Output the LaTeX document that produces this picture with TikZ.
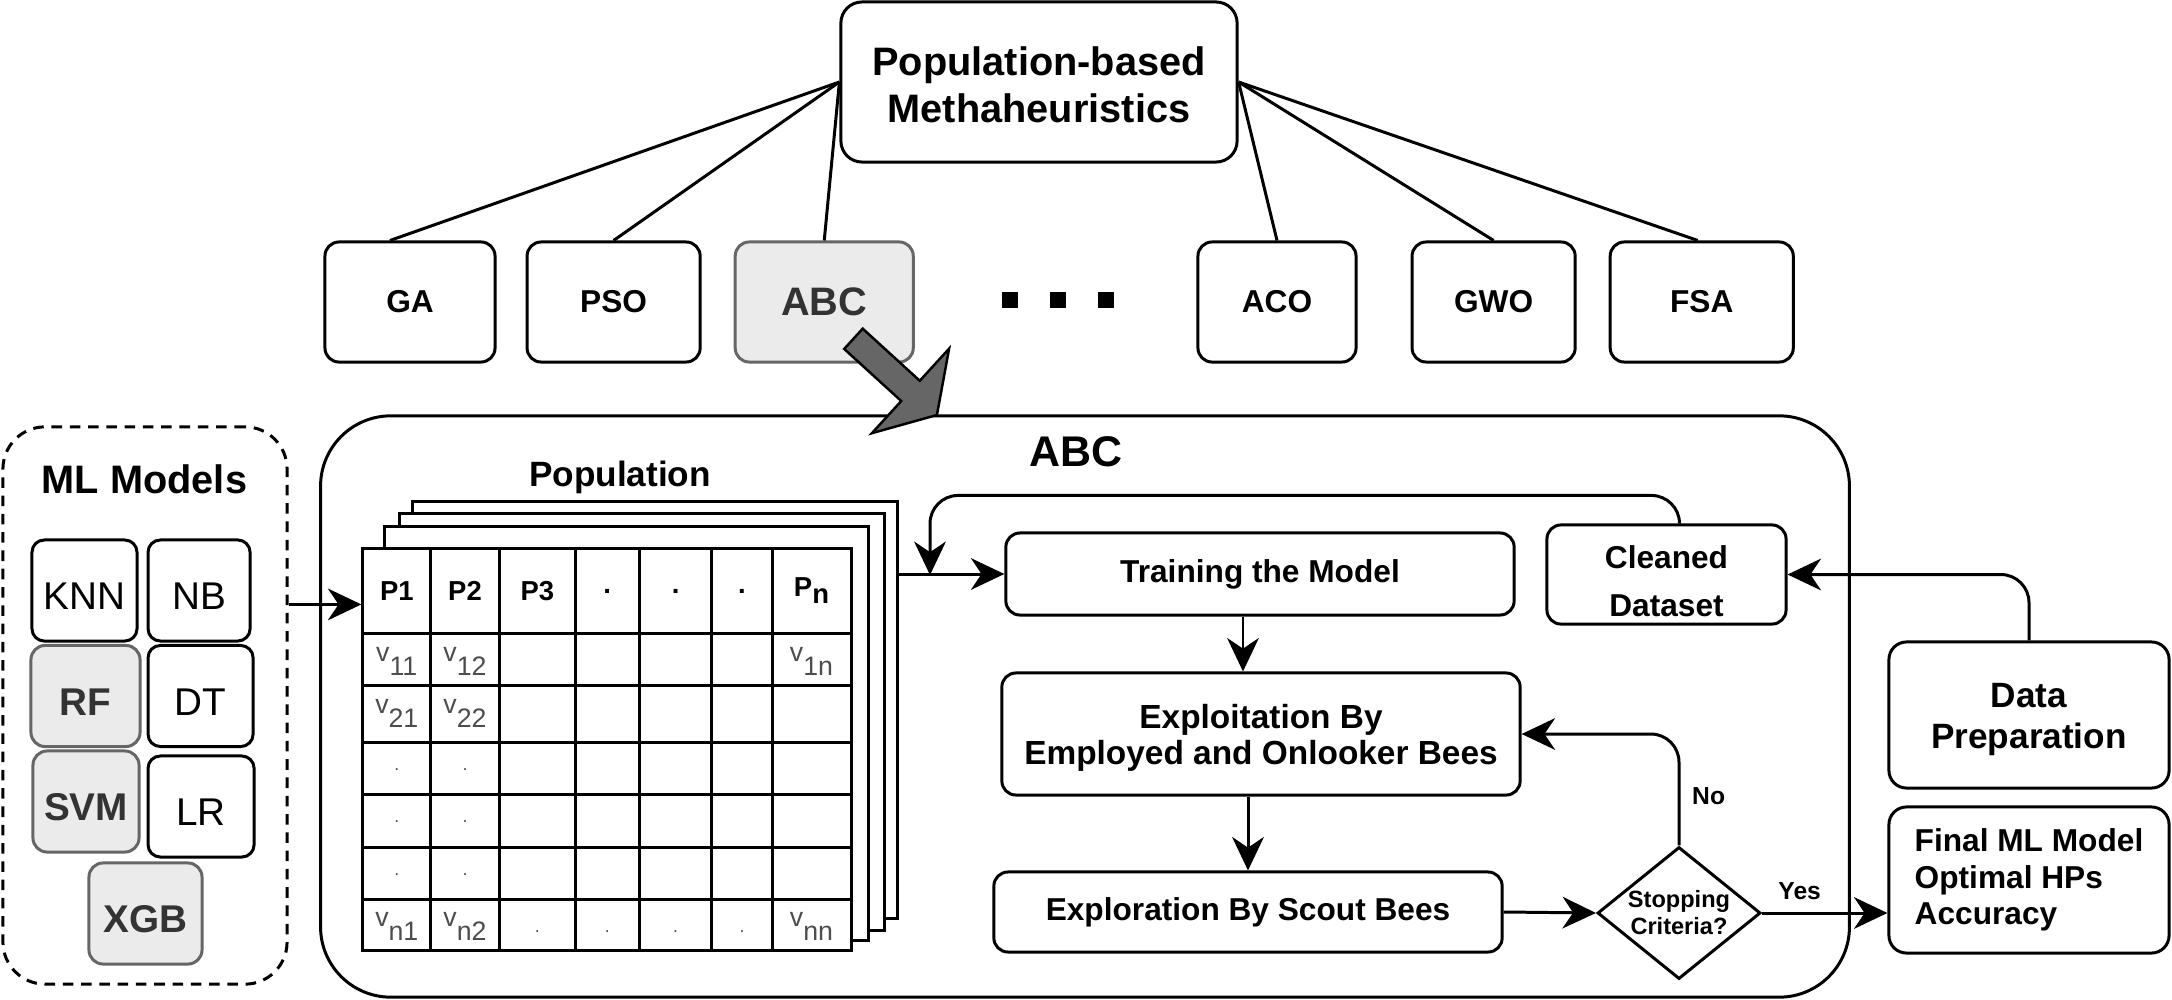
\documentclass[tikz,border=0pt]{standalone}
\usepackage{fontspec}
\setmainfont{Liberation Sans}
\usepackage{tikz}
\usetikzlibrary{arrows.meta,shapes.geometric,shapes.arrows}

\definecolor{boxgray}{HTML}{EBEBEB}
\definecolor{edgegray}{HTML}{666666}
\definecolor{txtgray}{HTML}{333333}
\definecolor{valgray}{HTML}{4D4D4D}

\newcommand{\fsize}[2]{\fontsize{#1}{#2}\selectfont}
\newcommand{\val}[1]{v\raisebox{-4pt}{#1}}

\tikzset{
  box/.style={draw, rounded corners=4pt, line width=0.85pt, align=center, inner sep=2pt},
  graybox/.style={box, draw=edgegray, fill=boxgray, text=txtgray},
  algo/.style={box, minimum width=1.70cm, minimum height=1.20cm, font=\bfseries\fsize{9}{11}},
  model/.style={box, rounded corners=3.5pt, minimum width=1.05cm, minimum height=1.01cm, font=\fsize{11}{13}, text height=11pt, text depth=0pt},
  flowbox/.style={box, font=\bfseries\fsize{9}{11}},
  sheet/.style={draw, fill=white, inner sep=0pt, line width=0.85pt},
  head/.style={font=\bfseries\fsize{7.8}{9}, inner sep=0pt},
  cell/.style={font=\fsize{7.6}{8}, text=valgray, inner sep=0pt},
  sqdot/.style={fill=black, minimum size=0.16cm, inner sep=0pt},
  fatarrow/.style={single arrow, draw=black, fill=edgegray, line width=0.7pt, inner xsep=0pt, inner ysep=0.125cm,
    minimum height=1.13cm, single arrow head extend=0.435cm,
    single arrow tip angle=116, single arrow head indent=0pt, rotate=-42.4}
}

\begin{document}
\begin{tikzpicture}[x=0.01cm, y=-0.01cm, node distance=2cm, line width=0.85pt,
    >={Stealth[length=9.5pt, width=9pt, inset=3pt]}]
\useasboundingbox (0,0) rectangle (2172,1000);

% the family of metaheuristics
\node[box, rounded corners=6pt, minimum width=3.96cm, minimum height=1.60cm, font=\bfseries\fsize{11.3}{13.4}] (meta) at (1039,82) {\rule{0pt}{10pt}Population-based\\Methaheuristics};
\node[algo] (ga) at (410,302) {GA};
\node[algo, minimum width=1.73cm] (pso) [right of=ga, xshift=0.035cm] {PSO};
\node[algo, graybox, minimum width=1.78cm, font=\bfseries\fsize{11.3}{13}] (abc) [right of=pso, xshift=0.105cm] {ABC};
\node[algo, minimum width=1.58cm] (aco) at (1277,302) {ACO};
\node[algo, minimum width=1.63cm] (gwo) [right of=aco, xshift=0.165cm] {GWO};
\node[algo, minimum width=1.83cm] (fsa) [right of=gwo, xshift=0.08cm] {FSA};
\node[sqdot] (dot1) at (1010,300) {};
\node[sqdot] (dot2) at (1058,300) {};
\node[sqdot] (dot3) at (1106,300) {};

\draw (meta.west) -- ([xshift=-0.2cm]ga.north);
\draw (meta.west) -- (pso.north);
\draw (meta.west) -- (abc.north);
\draw (meta.east) -- (aco.north);
\draw (meta.east) -- (gwo.north);
\draw (meta.east) -- ([xshift=-0.04cm]fsa.north);

% ML models
\node[box, dashed, dash pattern=on 3pt off 2.2pt, rounded corners=12pt, minimum width=2.84cm, minimum height=5.57cm] (mlframe) at (145,705.5) {};
\node[font=\bfseries\fsize{11.3}{13}] (mltitle) at (144.5,479) {ML Models};
\node[model] (knn) at (84.5,590.5) {KNN};
\node[model, minimum width=1.02cm] (nb) [right of=knn, xshift=-0.855cm] {NB};
\node[model, graybox, minimum width=1.09cm, font=\bfseries\fsize{11}{13}] (rf) at (85.5,696) {RF};
\node[model] (dt) [right of=rf, xshift=-0.85cm] {DT};
\node[model, graybox, minimum width=1.06cm, font=\bfseries\fsize{11}{13}] (svm) at (86,801.5) {SVM};
\node[model, minimum width=1.06cm] (lr) [right of=svm, xshift=-0.85cm, yshift=-0.05cm] {LR};
\node[model, graybox, minimum width=1.13cm, font=\bfseries\fsize{11}{13}] (xgb) at (145.5,913.5) {XGB};

% ABC frame
\node[box, rounded corners=20pt, minimum width=15.28cm, minimum height=5.81cm] (abcframe) at (1085,706.5) {};
\node[font=\bfseries\fsize{12.2}{14}] (abctitle) at (1076,452) {ABC};

% population table
\node[font=\bfseries\fsize{10}{12}] (poplabel) at (620,477) {Population};
\node[sheet, minimum width=4.84cm, minimum height=4.16cm] (sheet3) at (655,710) {};
\node[sheet, minimum width=4.84cm, minimum height=4.16cm] (sheet2) at (642,722) {};
\node[sheet, minimum width=4.83cm, minimum height=4.13cm] (sheet1) at (626.5,733.5) {};
\node[sheet, minimum width=4.88cm, minimum height=4.01cm] (pop) at (607,749.5) {};
\foreach \x in {430.6,499.4,575.3,639.3,711.8,772.1}
  \draw (\x,549) -- (\x,950);
\foreach \y in {633,685,742,794,847,899}
  \draw (363,\y) -- (851,\y);
\foreach \x/\t [count=\i] in {396.8/P1, 465/P2, 537.4/P3, 607.3/., 675.6/., 742/., 811.5/P\raisebox{-2pt}{n}}
  \node[head] (h\i) at (\x,591) {\t};
\node[cell] (v11) at (396.8,661) {\val{11}};
\node[cell] (v12) at (465,661) {\val{12}};
\node[cell] (v1n) at (811.5,661) {\val{1n}};
\node[cell] (v21) at (396.8,713.5) {\val{21}};
\node[cell] (v22) at (465,713.5) {\val{22}};
\foreach \y [count=\i] in {770,822,875} {
  \node[cell, font=\fsize{5}{6}] (da\i) at (396.8,\y) {.};
  \node[cell, font=\fsize{5}{6}] (db\i) at (465,\y) {.};
}
\node[cell] (vn1) at (396.8,926) {\val{n1}};
\node[cell] (vn2) at (465,926) {\val{n2}};
\foreach \x [count=\i] in {537.4,607.3,675.6,742}
  \node[cell, font=\fsize{5}{6}] (dl\i) at (\x,932) {.};
\node[cell] (vnn) at (811.5,926) {\val{nn}};

% ABC steps
\node[flowbox, minimum width=5.08cm, minimum height=0.82cm] (train) at (1260,574) {Training the Model};
\node[flowbox, minimum width=5.18cm, minimum height=1.22cm, font=\bfseries\fsize{9.5}{10.4}] (exploit) at (1261,734) {\rule{0pt}{9pt}Exploitation By\\Employed and Onlooker Bees};
\node[flowbox, minimum width=5.08cm, minimum height=0.80cm] (explor) at (1248,912) {Exploration By Scout Bees};
\node[flowbox, minimum width=2.39cm, minimum height=0.99cm, font=\bfseries\fsize{9}{13.6}] (clean) at (1666.5,574.5) {\rule{0pt}{10.5pt}Cleaned\\Dataset};
\node[diamond, draw, line width=0.85pt, aspect=1.23, inner sep=0pt, minimum width=1.63cm, minimum height=1.32cm, align=center, font=\bfseries\fsize{6.7}{7.7}] (stop) at (1679,913) {Stopping\\Criteria?};
\node[flowbox, rounded corners=5pt, minimum width=2.80cm, minimum height=1.46cm, font=\bfseries\fsize{10}{11.6}] (prep) at (2029,715) {\rule{0pt}{9.5pt}Data\\Preparation};
\node[flowbox, rounded corners=5pt, minimum width=2.80cm, minimum height=1.46cm, align=left, font=\bfseries\fsize{9}{10.3}] (final) at (2029,880) {Final ML Model\\Optimal HPs\\Accuracy};
\coordinate (join) at (930,575);
\coordinate (feed) at ([yshift=-0.57cm]pop.north west);

\draw[->] (mlframe.east |- feed) -- (feed);
\draw[->] (sheet3.east |- train.west) -- (train.west);
\draw[->, rounded corners=8pt] ([xshift=0.13cm]clean.north) -- ++(0,-28) -| (join);
\draw[->, rounded corners=8pt] (prep.north) |- (clean.east);
\draw[->] ([xshift=-0.17cm]train.south) -- ([xshift=-0.17cm]train.south |- exploit.north);
\draw[->] (explor.north |- exploit.south) -- (explor.north);
\draw[->] (explor.east) -- (stop.west);
\draw[->, rounded corners=8pt] (stop.north) |- (exploit.east) node[pos=0.22, right, font=\bfseries\fsize{7}{8}] {No};
\draw[->] (stop.east) -- (stop.east -| final.west) node[pos=0.3, above, font=\bfseries\fsize{7}{8}] {Yes};

% pick ABC
\node[fatarrow, anchor=tip] (pick) at (938,416) {};
\end{tikzpicture}
\end{document}
